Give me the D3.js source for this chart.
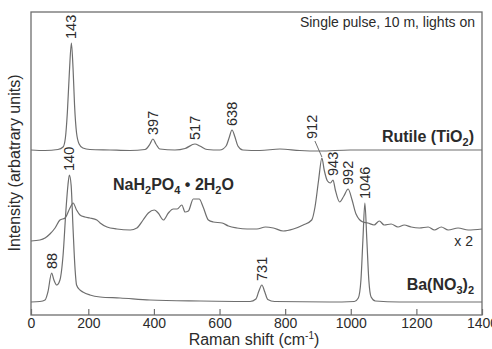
<!DOCTYPE html>
<html>
<head>
<meta charset="utf-8">
<script src="https://cdn.jsdelivr.net/npm/d3@7/dist/d3.min.js"></script>
<style>
  html, body { margin: 0; padding: 0; background: #fff; }
  svg { display: block; }
</style>
</head>
<body>
<svg id="chart" width="492" height="349"></svg>
<script>
// ---------------- data ----------------
const shiftTicks = [0, 200, 400, 600, 800, 1000, 1200, 1400];

// Rutile (TiO2)
const rutileShift = [0,49,94,112,120,127,134,141,147,152,159,168,181,205,266,327,373,388,397,406,418,464,495,525,540,562,601,620,629,638,647,656,671,723,784,845,906,998,1150,1302,1400];
const rutileIntensity = [165,164.5,165.5,168,177,203,243,272,245,210,182,171,167,165.5,165,164.5,165.5,171,176,171,166,165,166.5,171,169,165.5,165,169,177,185,178,169,165,164.5,166,164.5,164,165,165,165,165];
const rutilePeaks = ["143", "397", "517", "638"];

// NaH2PO4 · 2H2O (x 2)
const nahShift = [0,31,49,66,84,101,119,136,147,159,171,188,205,226,236,257,287,328,348,367,383,401,413,429,444,459,471,485,495,505,520,538,550,566,581,608,627,653,684,714,740,764,794,825,855,881,891,902,912,919,929,938,946,953,966,979,992,1004,1016,1037,1052,1071,1087,1102,1123,1144,1163,1184,1209,1236,1255,1276,1297,1327,1358,1400];
const nahIntensity = [74,75,77,81,87,95,97,107,112,105,100,98,97,95,92,88,86,85,87,95,102,105,102,95,102,106,106,110,103,104,116,116,108,95,93,92,89,87,86,86,88,87,84,86,90,95,108,135,157,145,134,132,135,125,113,119,126,115,101,93,92,90,94,90,91,88,90,88,87,88,85,88,85,87,85,86];
const nahPeaks = ["912", "943", "992"];

// Ba(NO3)2
const baShift = [0,31,49,59,72,80,90,101,112,122,129,134,140,147,154,159,171,181,205,236,297,388,541,693,711,720,729,738,747,768,935,1011,1023,1031,1037,1043,1049,1055,1062,1075,1148,1400];
const baIntensity = [13,13.5,15,23,42,35,30,35,60,105,130,140,130,85,45,30,25,23,20,18,17,15,14,13.5,16,24,30,23,15.5,13.5,13,13.5,17,35,75,112,75,35,18,14,13,13];
const baPeaks = ["88", "140", "731", "1046"];

// ---------------- layout ----------------
const svg = d3.select("#chart");
const plotL = 31, plotR = 482, plotT = 12, plotB = 315;
const FONT = "'Liberation Sans', Arial, Helvetica, sans-serif";
const LINE = "#6e6e6e";
const TEXT = "#2b2b2b";

// the original axis is slightly compressed between 0 and 200
const x = d3.scaleLinear().domain([0, 200, 1400]).range([plotL, 88.3, plotR]);
const y = d3.scaleLinear().domain([0, 303]).range([plotB, plotT]);

// frame
svg.append("rect")
  .attr("x", plotL).attr("y", plotT)
  .attr("width", plotR - plotL).attr("height", plotB - plotT)
  .attr("fill", "none").attr("stroke", LINE).attr("stroke-width", 1.3);

// x axis
const axis = d3.axisBottom(x).tickValues(shiftTicks).tickSize(-6).tickPadding(3).tickFormat(d3.format("d"));
const gx = svg.append("g").attr("transform", `translate(0,${plotB})`).call(axis);
gx.select(".domain").remove();
gx.selectAll(".tick line").attr("stroke", LINE).attr("stroke-width", 1.2);
gx.selectAll(".tick text")
  .attr("fill", TEXT)
  .style("font-family", "'Liberation Sans Narrow', 'Arial Narrow', 'Liberation Sans', sans-serif")
  .style("font-size", "14px");

// axis titles
const xt = svg.append("text")
  .attr("x", 254).attr("y", 345)
  .attr("text-anchor", "middle")
  .attr("fill", TEXT)
  .style("font-family", FONT).style("font-size", "16px");
xt.append("tspan").text("Raman shift (cm");
xt.append("tspan").attr("dy", -6).style("font-size", "10px").text("-1");
xt.append("tspan").attr("dy", 6).text(")");

svg.append("text")
  .attr("transform", "translate(20,163) rotate(-90)")
  .attr("text-anchor", "middle")
  .attr("fill", TEXT)
  .style("font-family", FONT).style("font-size", "16px")
  .text("Intensity (arbatrary units)");

// spectra
const line = d3.line().x(d => x(d[0])).y(d => y(d[1])).curve(d3.curveMonotoneX);
function drawSeries(sh, inten) {
  svg.append("path")
    .datum(sh.map((s, i) => [s, inten[i]]))
    .attr("d", line)
    .attr("fill", "none")
    .attr("stroke", LINE)
    .attr("stroke-width", 1.2)
    .attr("stroke-linejoin", "round");
}
drawSeries(nahShift, nahIntensity);
drawSeries(rutileShift, rutileIntensity);
drawSeries(baShift, baIntensity);

// peak labels
function labelPeaks(sh, inten, labels) {
  labels.forEach(t => {
    const v = +t;
    let best = -1;
    sh.forEach((s, i) => {
      if (Math.abs(s - v) <= 20 && (best < 0 || inten[i] > inten[best])) best = i;
    });
    const px = x(sh[best]), py = y(inten[best]);
    let lx = px, ly = py - 4;
    if (t === "912") {
      lx = px - 10; ly = py - 19;
      svg.append("line")
        .attr("x1", px - 7).attr("y1", py - 17)
        .attr("x2", px).attr("y2", py - 1)
        .attr("stroke", LINE).attr("stroke-width", 1);
    }
    svg.append("text")
      .attr("transform", `translate(${lx},${ly}) rotate(-90)`)
      .attr("dy", "0.35em")
      .attr("fill", TEXT)
      .style("font-family", FONT).style("font-size", "14.5px")
      .text(t);
  });
}
labelPeaks(rutileShift, rutileIntensity, rutilePeaks);
labelPeaks(nahShift, nahIntensity, nahPeaks);
labelPeaks(baShift, baIntensity, baPeaks);

// sample names
function chem(xp, yp, anchor, parts) {
  const t = svg.append("text")
    .attr("x", xp).attr("y", yp)
    .attr("text-anchor", anchor)
    .attr("fill", TEXT)
    .style("font-family", FONT).style("font-size", "16px").style("font-weight", "bold");
  let sub = false;
  parts.forEach(p => {
    const isSub = p.startsWith("_");
    const txt = isSub ? p.slice(1) : p;
    const ts = t.append("tspan").text(txt);
    if (isSub) { ts.style("font-size", "11px"); if (!sub) ts.attr("dy", 4); }
    else if (sub) ts.attr("dy", -4);
    sub = isSub;
  });
  return t;
}
chem(474, 142, "end", ["Rutile (TiO", "_2", ")"]);
chem(113, 190, "start", ["NaH", "_2", "PO", "_4", " \u2022 2H", "_2", "O"]);
chem(474, 290, "end", ["Ba(NO", "_3", ")", "_2"]);

svg.append("text")
  .attr("x", 473).attr("y", 246)
  .attr("text-anchor", "end")
  .attr("fill", TEXT)
  .style("font-family", FONT).style("font-size", "14px")
  .text("x 2");

svg.append("text")
  .attr("x", 475).attr("y", 27)
  .attr("text-anchor", "end")
  .attr("fill", TEXT)
  .style("font-family", FONT).style("font-size", "14px")
  .text("Single pulse, 10 m, lights on");
</script>
</body>
</html>
